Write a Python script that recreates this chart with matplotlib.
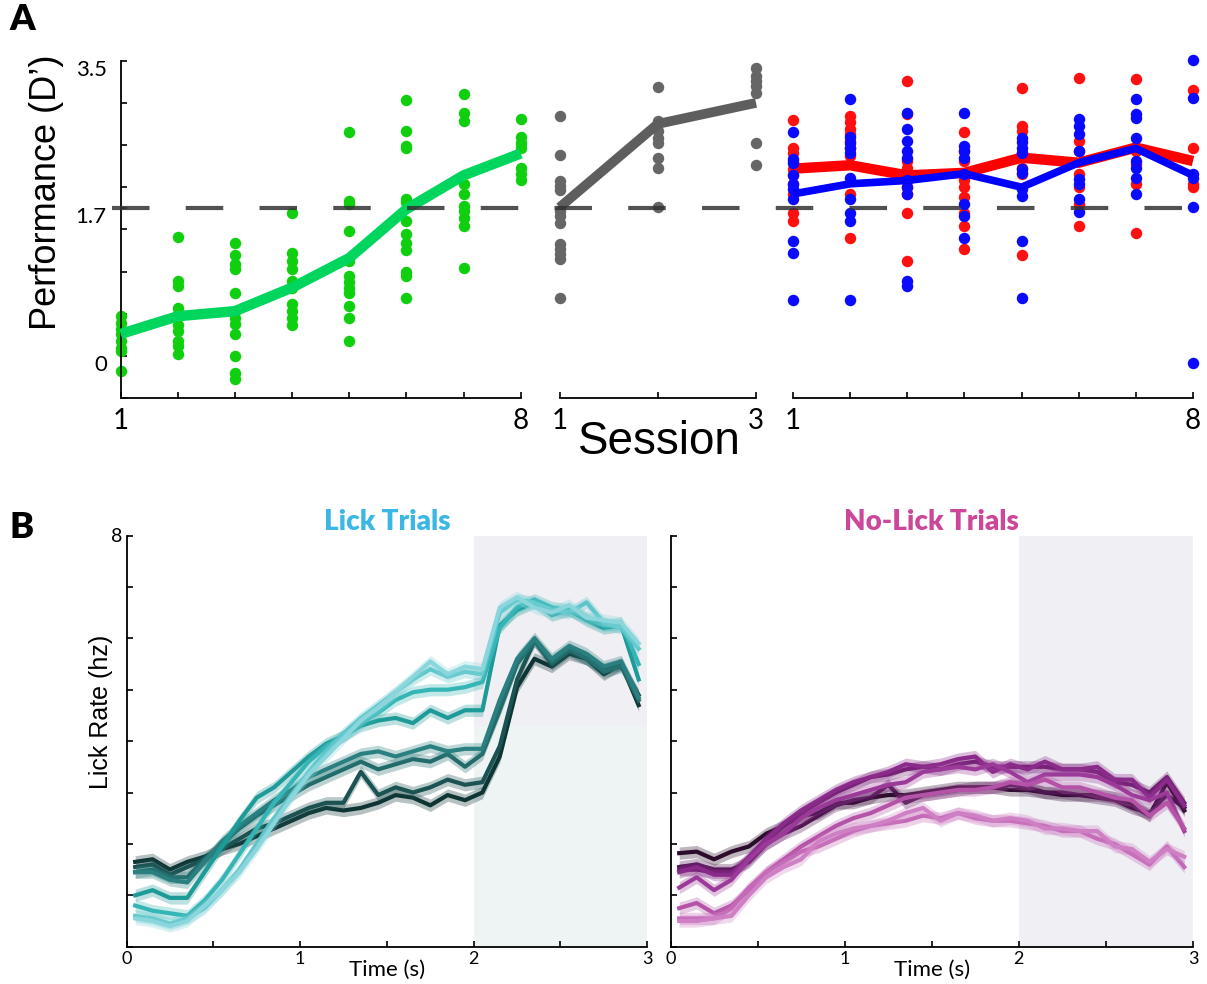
import numpy as np
import matplotlib.pyplot as plt
from matplotlib.transforms import blended_transform_factory, ScaledTranslation
from matplotlib.lines import Line2D

# ---------------- data, panel A (performance d') ----------------
thresh = 1.75
green_sessions = [1, 2, 3, 4, 5, 6, 7, 8]
green_mean = [0.26, 0.47, 0.53, 0.81, 1.16, 1.74, 2.14, 2.40]
green_pts = [
    [0.47, 0.39, 0.32, 0.26, 0.18, 0.09, 0.06, -0.18],
    [1.41, 0.89, 0.83, 0.57, 0.50, 0.36, 0.30, 0.18, 0.12, 0.02],
    [1.34, 1.19, 1.09, 1.03, 0.74, 0.53, 0.45, 0.38, 0.26, 0.0, -0.20, -0.27],
    [1.69, 1.22, 1.13, 1.03, 0.89, 0.81, 0.62, 0.53, 0.45, 0.36],
    [2.65, 1.84, 1.80, 1.48, 1.13, 0.95, 0.87, 0.81, 0.74, 0.59, 0.45, 0.18],
    [3.03, 2.67, 2.49, 2.46, 1.86, 1.82, 1.60, 1.45, 1.34, 1.25, 0.99, 0.95, 0.69],
    [3.11, 2.88, 2.79, 2.04, 1.92, 1.78, 1.72, 1.64, 1.54, 1.04],
    [2.81, 2.59, 2.52, 2.47, 2.23, 2.16, 2.08],
]

gray_sessions = [1, 2, 3]
gray_mean = [1.76, 2.75, 3.0]
gray_pts = [
    [2.85, 2.38, 2.07, 2.01, 1.97, 1.72, 1.66, 1.57, 1.33, 1.27, 1.21, 1.15, 0.69],
    [3.19, 2.79, 2.76, 2.67, 2.58, 2.52, 2.35, 2.23, 1.76],
    [3.41, 3.32, 3.26, 3.20, 3.12, 2.52, 2.26],
]

rb_sessions = [1, 2, 3, 4, 5, 6, 7, 8]
red_mean = [2.22, 2.26, 2.14, 2.17, 2.35, 2.29, 2.47, 2.31]
blue_mean = [1.92, 2.04, 2.08, 2.16, 2.00, 2.29, 2.46, 2.14]
red_pts = [
    [2.80, 2.47, 2.40, 2.31, 2.22, 2.14, 2.04, 1.92, 1.69, 1.60],
    [2.84, 2.77, 2.69, 2.63, 2.55, 2.47, 2.37, 1.92, 1.40],
    [3.26, 2.87, 2.31, 2.23, 2.16, 2.08, 2.00, 1.92, 1.69, 1.13],
    [2.65, 2.43, 2.31, 2.08, 2.00, 1.88, 1.69, 1.54, 1.27],
    [3.18, 2.73, 2.67, 2.40, 2.23, 2.16, 1.19],
    [3.30, 2.55, 2.43, 2.16, 2.00, 1.80, 1.54],
    [3.28, 2.43, 2.28, 2.04, 1.46],
    [3.15, 2.47, 2.04, 2.00],
]
blue_pts = [
    [2.66, 2.34, 2.29, 2.14, 2.04, 1.98, 1.86, 1.36, 1.22, 0.66],
    [3.05, 2.59, 2.52, 2.46, 2.41, 2.11, 1.86, 1.69, 1.60, 0.66],
    [2.88, 2.69, 2.55, 2.43, 2.35, 2.08, 2.00, 1.92, 0.89, 0.83],
    [2.88, 2.49, 2.43, 2.35, 2.16, 1.80, 1.66, 1.40],
    [2.58, 2.53, 2.47, 2.40, 2.22, 2.17, 1.98, 1.90, 1.36, 0.69],
    [2.81, 2.73, 2.63, 2.43, 2.10, 2.04, 1.86, 1.70],
    [3.04, 2.87, 2.82, 2.58, 2.31, 2.23, 2.11, 1.92],
    [3.51, 3.06, 2.16, 2.11, 1.76, -0.08],
]

# ---------------- data, panel B (lick rate, hz) ----------------
time_s = np.arange(30) * 0.1 + 0.05
lick_rates = [
    [1.65, 1.7, 1.5, 1.65, 1.75, 1.9, 2.0, 2.15, 2.3, 2.45, 2.6, 2.7, 2.65, 2.7, 2.8, 2.95, 2.9, 2.75, 2.95, 2.85, 3.0, 3.7, 5.05, 5.6, 5.45, 5.7, 5.6, 5.3, 5.5, 4.7],
    [1.55, 1.6, 1.4, 1.55, 1.7, 1.9, 2.1, 2.3, 2.4, 2.55, 2.7, 2.8, 2.8, 3.4, 2.95, 3.1, 3.0, 3.1, 3.25, 3.15, 3.2, 3.9, 5.2, 5.95, 5.5, 5.75, 5.6, 5.4, 5.5, 4.9],
    [1.45, 1.5, 1.35, 1.35, 1.7, 2.0, 2.3, 2.55, 2.75, 2.95, 3.15, 3.3, 3.45, 3.6, 3.45, 3.55, 3.65, 3.6, 3.75, 3.5, 3.75, 4.6, 5.5, 5.95, 5.55, 5.8, 5.6, 5.35, 5.45, 4.8],
    [1.45, 1.45, 1.3, 1.25, 1.65, 2.05, 2.35, 2.6, 2.85, 3.05, 3.3, 3.45, 3.6, 3.75, 3.8, 3.7, 3.8, 3.9, 3.8, 3.85, 3.85, 4.8, 5.6, 6.0, 5.6, 5.85, 5.7, 5.45, 5.55, 4.85],
    [1.0, 1.1, 0.95, 0.95, 1.45, 1.95, 2.45, 2.9, 3.1, 3.4, 3.7, 3.95, 4.1, 4.3, 4.4, 4.45, 4.35, 4.6, 4.45, 4.6, 4.6, 6.25, 6.55, 6.7, 6.45, 6.55, 6.35, 6.2, 6.25, 5.2],
    [0.8, 0.7, 0.65, 0.6, 0.9, 1.3, 1.8, 2.3, 2.8, 3.2, 3.6, 3.9, 4.1, 4.35, 4.55, 4.8, 4.95, 5.0, 5.0, 5.05, 5.15, 6.2, 6.6, 6.75, 6.6, 6.55, 6.4, 6.25, 6.3, 5.5],
    [0.6, 0.55, 0.45, 0.55, 0.75, 1.1, 1.5, 2.0, 2.5, 2.95, 3.4, 3.8, 4.15, 4.45, 4.7, 4.95, 5.2, 5.4, 5.25, 5.35, 5.3, 6.5, 6.75, 6.7, 6.55, 6.5, 6.7, 6.3, 6.2, 5.8],
    [0.55, 0.5, 0.4, 0.5, 0.8, 1.1, 1.45, 1.9, 2.4, 2.9, 3.35, 3.7, 4.05, 4.4, 4.65, 4.95, 5.25, 5.55, 5.3, 5.45, 5.4, 6.6, 6.8, 6.6, 6.5, 6.65, 6.4, 6.35, 6.3, 5.9],
]
nolick_rates = [
    [1.82, 1.85, 1.7, 1.85, 1.95, 2.2, 2.35, 2.55, 2.6, 2.8, 2.8, 2.9, 2.95, 2.95, 3.0, 3.05, 3.1, 3.1, 3.1, 3.05, 3.05, 3.0, 2.95, 2.95, 2.95, 2.9, 2.75, 2.55, 3.2, 2.65],
    [1.55, 1.6, 1.5, 1.5, 1.65, 2.0, 2.2, 2.35, 2.55, 2.75, 2.85, 2.9, 3.15, 2.8, 2.95, 3.0, 3.05, 3.1, 3.1, 3.15, 3.1, 3.0, 3.0, 2.95, 2.9, 2.85, 2.7, 2.6, 2.95, 2.7],
    [1.5, 1.5, 1.45, 1.45, 1.7, 2.05, 2.35, 2.6, 2.8, 3.0, 3.15, 3.3, 3.35, 3.45, 3.5, 3.45, 3.55, 3.6, 3.5, 3.5, 3.5, 3.5, 3.45, 3.45, 3.4, 3.2, 3.15, 3.0, 3.3, 2.8],
    [1.45, 1.55, 1.4, 1.4, 1.75, 2.1, 2.4, 2.65, 2.85, 3.05, 3.2, 3.3, 3.4, 3.55, 3.5, 3.55, 3.65, 3.7, 3.4, 3.55, 3.45, 3.6, 3.45, 3.45, 3.5, 3.25, 3.25, 2.9, 3.25, 2.75],
    [1.15, 1.35, 1.1, 1.3, 1.7, 2.0, 2.2, 2.5, 2.7, 2.85, 2.95, 3.05, 3.15, 3.2, 3.4, 3.45, 3.5, 3.45, 3.55, 3.4, 3.2, 3.35, 3.35, 3.35, 3.3, 3.15, 2.95, 2.85, 3.0, 2.25],
    [0.75, 0.85, 0.65, 0.8, 1.1, 1.45, 1.7, 1.95, 2.15, 2.35, 2.5, 2.6, 2.75, 2.9, 2.95, 3.0, 3.05, 3.05, 3.1, 3.2, 3.15, 3.25, 3.1, 3.1, 3.0, 2.9, 2.85, 2.55, 2.8, 2.3],
    [0.55, 0.55, 0.55, 0.75, 1.15, 1.45, 1.65, 1.85, 1.95, 2.1, 2.25, 2.35, 2.4, 2.45, 2.55, 2.5, 2.6, 2.5, 2.45, 2.45, 2.4, 2.35, 2.25, 2.25, 2.1, 2.0, 1.8, 1.6, 1.95, 1.55],
    [0.5, 0.5, 0.55, 0.6, 1.0, 1.35, 1.55, 1.7, 2.05, 2.2, 2.3, 2.35, 2.45, 2.6, 2.7, 2.45, 2.6, 2.55, 2.45, 2.5, 2.45, 2.3, 2.3, 2.25, 2.25, 1.95, 1.9, 1.65, 1.9, 1.75],
]
lick_colors = ['#0e3434', '#1b5252', '#236b6b', '#2a8080', '#1e9a98', '#35b5b5', '#5cc6cb', '#8ad6dc']
nolick_colors = ['#2b0c2b', '#4d1650', '#6e1f70', '#8a2a8a', '#9c3a9a', '#b453a8', '#c468b8', '#cf80c5']

W, H = 1207, 984
fig = plt.figure(figsize=(W / 100, H / 100), dpi=100)


def add_ax(l, t, r, b):
    # axes placed by pixel box (left, top, right, bottom)
    return fig.add_axes([l / W, 1 - b / H, (r - l) / W, (b - t) / H])


def style_spines(ax, left=True):
    for s in ['top', 'right']:
        ax.spines[s].set_visible(False)
    ax.spines['left'].set_visible(left)
    for s in ['left', 'bottom']:
        ax.spines[s].set_linewidth(1.3)
    ax.set_facecolor('none')


def scatter_groups(ax, sessions, groups, color, z):
    for s, vals in zip(sessions, groups):
        ax.scatter(np.full(len(vals), s), vals, s=68, c=color, linewidths=0,
                   clip_on=False, zorder=z)


tick_font = 'Lato'

# ---------------- panel A ----------------
ax1 = add_ax(120.7, 60.7, 520.7, 398)
ax2 = add_ax(559.5, 60.7, 756, 398)
ax3 = add_ax(793, 60.7, 1193, 398)

for ax, xs in [(ax1, green_sessions), (ax2, gray_sessions), (ax3, rb_sessions)]:
    style_spines(ax, left=(ax is ax1))
    ax.set_xlim(xs[0], xs[-1])
    ax.set_ylim(-0.5, 3.5)
    ax.set_xticks(xs)
    ax.set_xticklabels([str(xs[0])] + [''] * (len(xs) - 2) + [str(xs[-1])],
                       fontsize=20, family=tick_font)
    ax.tick_params(axis='x', direction='in', length=4, width=1.2, pad=7)
    if ax is ax1:
        ax.set_yticks(np.arange(-0.5, 3.51, 0.5), minor=True)
        ax.set_yticks([0, thresh, 3.5])
        ax.set_yticklabels(['0', '1.7', '3.5'], fontsize=16, family=tick_font)
        ax.tick_params(axis='y', which='both', direction='in', length=4, width=1.2, pad=10)
        for lab in ax.get_yticklabels():
            lab.set_transform(lab.get_transform() + ScaledTranslation(0, -5 / 72, fig.dpi_scale_trans))
    else:
        ax.set_yticks([])

scatter_groups(ax1, green_sessions, green_pts, '#0fcf0f', 2)
ax1.plot(green_sessions, green_mean, color='#00d65e', lw=7.5, solid_capstyle='butt',
         clip_on=False, zorder=3)

scatter_groups(ax2, gray_sessions, gray_pts, '#666666', 2)
ax2.plot(gray_sessions, gray_mean, color='#5e5e5e', lw=7, solid_capstyle='butt',
         clip_on=False, zorder=3)

scatter_groups(ax3, rb_sessions, red_pts, '#ff1010', 2)
ax3.plot(rb_sessions, red_mean, color='#ff0000', lw=7.5, solid_capstyle='butt',
         clip_on=False, zorder=3)
scatter_groups(ax3, rb_sessions, blue_pts, '#0a0aff', 4)
ax3.plot(rb_sessions, blue_mean, color='#0000ff', lw=5.5, solid_capstyle='butt',
         clip_on=False, zorder=5)

# threshold dashed line across the three session blocks
tr = blended_transform_factory(fig.transFigure, ax1.transData)
fig.add_artist(Line2D([112 / W, 1203 / W], [thresh, thresh], transform=tr,
                      color='#333333', alpha=0.85, lw=3, dashes=(9, 8.7), zorder=6))

fig.text(47 / W, 1 - 192 / H, 'Performance (D\u2019)', rotation=90, ha='center', va='center',
         fontsize=26, family='Liberation Sans')
fig.text(659 / W, 1 - 442 / H, 'Session', ha='center', va='center', fontsize=33,
         family='Liberation Sans')
fig.text(22 / W, 1 - 20 / H, 'A', ha='center', va='center', fontsize=26,
         fontweight='heavy', family='Lato')
fig.text(22 / W, 1 - 528 / H, 'B', ha='center', va='center', fontsize=26,
         fontweight='heavy', family='Lato')

# ---------------- panel B ----------------
bx1 = add_ax(126.5, 535.5, 647.3, 946.7)
bx2 = add_ax(670.5, 535.5, 1193, 946.7)

for ax in (bx1, bx2):
    style_spines(ax)
    ax.set_xlim(0, 3)
    ax.set_ylim(0, 8)
    ax.set_xticks(np.arange(0, 3.01, 0.5))
    ax.set_xticklabels(['0', '', '1', '', '2', '', '3'], fontsize=13, family=tick_font)
    ax.set_yticks(np.arange(0, 8.01, 1))
    ax.set_yticklabels([''] * 8 + ['8'] if ax is bx1 else [''] * 9, fontsize=14,
                       family=tick_font)
    ax.tick_params(direction='in', length=4, width=1.2, pad=3)
    ax.set_xlabel('Time (s)', fontsize=16, family=tick_font, labelpad=-5)

bx1.fill_between([2, 3], 4.3, 8, color='#efeff4', lw=0, zorder=0)
bx1.fill_between([2, 3], 0, 4.3, color='#eef4f4', lw=0, zorder=0)
bx2.fill_between([2, 3], 0, 8, color='#efeff4', lw=0, zorder=0)

for ax, rates, cols in [(bx1, lick_rates, lick_colors), (bx2, nolick_rates, nolick_colors)]:
    for i, (r, c) in enumerate(zip(rates, cols)):
        r = np.array(r)
        ax.fill_between(time_s, r - 0.12, r + 0.12, color=c, alpha=0.3, lw=0, zorder=2 + i)
        ax.plot(time_s, r, color=c, lw=3, zorder=2 + i)

fig.text(101 / W, 1 - 712 / H, 'Lick Rate (hz)', rotation=90, ha='center', va='center',
         fontsize=18, family='Liberation Sans')
bx1.set_title('Lick Trials', fontsize=20, fontweight='heavy', family='Lato',
              color='#3ab7e4', pad=4)
bx2.set_title('No-Lick Trials', fontsize=20, fontweight='heavy', family='Lato',
              color='#cc4799', pad=4)

fig.savefig('out.png', dpi=100)
